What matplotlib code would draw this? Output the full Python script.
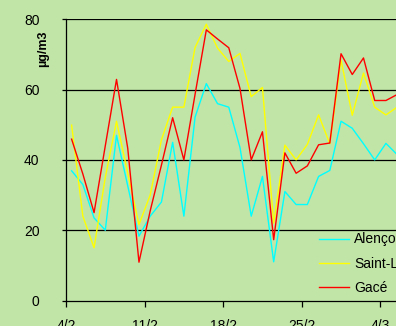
import matplotlib
matplotlib.use("Agg")
import matplotlib.pyplot as plt
import numpy as np

plt.rcParams['font.family'] = ['Liberation Sans', 'DejaVu Sans']

tick_pos = [0, 7, 14, 21, 28]
tick_labels = ['4/2', '11/2', '18/2', '25/2', '4/3']

alencon = [36.9, 33, 23.5, 20, 47, 32.6, 18.3, 24, 28, 45, 24, 52.2, 61.7, 56, 55,
           43.5, 24, 35.3, 11, 31, 27.3, 27.3, 35.3, 37, 51, 49, 44.6, 40, 44.7, 41.5]
saint_lo = [49.9, 24, 15, 35, 51, 36.3, 21.6, 30, 45.7, 55, 55, 72, 78.6, 71.8, 68,
            70.3, 58, 60.6, 22, 44.2, 40, 44.4, 52.8, 44.6, 68.4, 52.7, 64.7, 55, 52.8, 55]
gace = [45.9, 36, 25, 44, 62.9, 43.3, 10.9, 25.5, 38.5, 52, 40, 58.7, 77, 74.4, 71.9,
        60.3, 40, 48, 17.3, 42, 36.2, 38.3, 44.3, 44.8, 70.2, 64.3, 69, 56.9, 56.9, 58.6]

bg = '#C1E5A7'
fig = plt.figure(figsize=(3.96, 3.26), dpi=100, facecolor=bg)
ax = fig.add_axes([66/396, 25.5/326, 348/396, 281.2/326], facecolor=bg)

# one point per day, drawn in the middle of the day's slot
x = np.arange(len(alencon)) + 0.5
ax.plot(x, alencon, color='#00FFFF', lw=1.0, label='Alençon')
ax.plot(x, saint_lo, color='#FFFF00', lw=1.0, label='Saint-Lô')
ax.plot(x, gace, color='#FF0000', lw=1.0, label='Gacé')

ax.set_xlim(0, 31)
ax.set_ylim(0, 80)
ax.set_yticks([0, 20, 40, 60, 80])
ax.set_xticks(tick_pos)
ax.set_xticklabels(tick_labels)
for v in [20, 40, 60, 80]:
    ax.axhline(v, color='black', lw=0.9, zorder=0.5)

for s in ['top', 'right']:
    ax.spines[s].set_visible(False)
ax.spines['left'].set_linewidth(0.9)
ax.spines['bottom'].set_linewidth(0.9)
ax.tick_params(axis='y', length=3, width=0.9, pad=16, labelsize=10)
ax.tick_params(axis='x', length=4, width=0.9, pad=9, labelsize=10)

fig.text(43/396, 1 - 49/326, 'µg/m3', rotation=90, fontsize=9, fontweight='bold',
         ha='center', va='center')

ax.legend(loc='upper left', bbox_to_anchor=(319/396, 1 - 232.5/326),
          bbox_transform=fig.transFigure, frameon=False, fontsize=10,
          handlelength=2.15, handletextpad=0.4, labelspacing=0.72,
          borderpad=0, borderaxespad=0)

fig.savefig('out.png', dpi=100, facecolor=bg)
